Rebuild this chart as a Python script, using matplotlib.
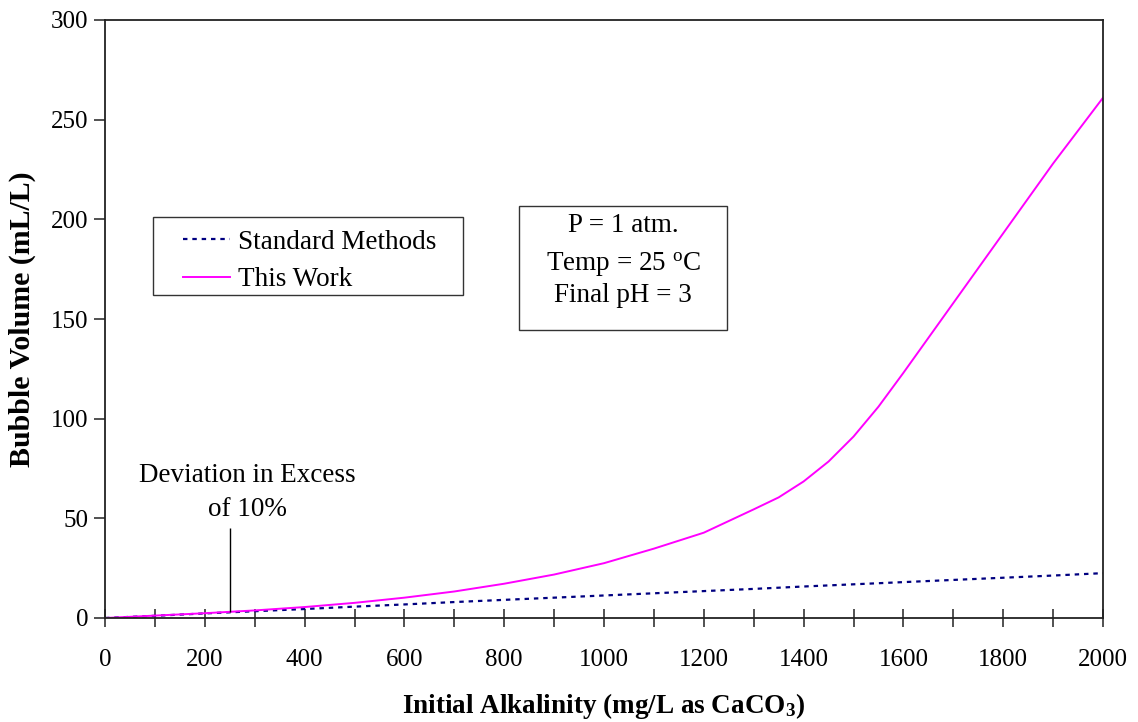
import matplotlib
matplotlib.use("Agg")
import matplotlib.pyplot as plt
from matplotlib.patches import Rectangle
from matplotlib.ticker import MultipleLocator

plt.rcParams['font.family'] = ['Liberation Serif', 'DejaVu Serif']
plt.rcParams['mathtext.fontset'] = 'custom'
plt.rcParams['mathtext.rm'] = 'Liberation Serif'
plt.rcParams['mathtext.bf'] = 'Liberation Serif:bold'
plt.rcParams['mathtext.it'] = 'Liberation Serif:italic'

# ---- data ----
alk_std = [0, 100, 200, 300, 400, 500, 600, 700, 800, 900, 1000, 1100, 1200,
           1300, 1400, 1500, 1600, 1700, 1800, 1900, 2000]
vol_std = [0, 1.1, 2.3, 3.4, 4.5, 5.7, 6.8, 8.0, 9.1, 10.2, 11.3, 12.4, 13.5,
           14.6, 15.8, 16.9, 18.0, 19.1, 20.2, 21.3, 22.5]

alk_work = [0, 100, 200, 300, 400, 500, 600, 700, 800, 900, 1000, 1100, 1200,
            1300, 1350, 1400, 1450, 1500, 1550, 1600, 1700, 1800, 1900, 2000]
vol_work = [0, 1.2, 2.4, 3.8, 5.5, 7.6, 10.2, 13.3, 17.2, 21.8, 27.5, 34.8, 42.8,
            54.5, 60.5, 68.5, 78.5, 91, 106, 123, 158, 193, 228, 261]

annot_x = 250
annot_y0 = 3
annot_y1 = 45

x_ticks = [0, 200, 400, 600, 800, 1000, 1200, 1400, 1600, 1800, 2000]
y_ticks = [0, 50, 100, 150, 200, 250, 300]

FS_TICK = 18
FS = 19.5

fig = plt.figure(figsize=(11.38, 7.22), dpi=100)
ax = fig.add_axes([105/1138, 1 - 618/722, 998/1138, 598/722])

ax.plot(alk_std, vol_std, color='#000080', lw=1.6, dashes=(2, 2.2),
        label='Standard Methods')
ax.plot(alk_work, vol_work, color='#FF00FF', lw=1.4, label='This Work')

ax.vlines(annot_x, annot_y0, annot_y1, color='black', lw=1.0)
ax.text(285, 63, 'Deviation in Excess\nof 10%', ha='center', va='center',
        fontsize=FS, linespacing=1.5, multialignment='center')

ax.set_xlim(0, 2000)
ax.set_ylim(0, 300)
ax.set_xticks(x_ticks)
ax.set_yticks(y_ticks)
ax.xaxis.set_minor_locator(MultipleLocator(100))
ax.tick_params(axis='x', which='both', direction='inout', length=13, width=1.1,
               labelsize=FS_TICK, pad=16, color='#222222')
ax.tick_params(axis='y', direction='out', length=8, width=1.1, labelsize=FS_TICK,
               pad=4, color='#222222')
for s in ax.spines.values():
    s.set_linewidth(1.3)
    s.set_color('#222222')

ax.set_xlabel(r'Initial Alkalinity (mg/L as CaCO$_\mathbf{3}$)', fontsize=FS,
              fontweight='bold', labelpad=14)
ax.set_ylabel('Bubble Volume (mL/L)', fontsize=21.5, fontweight='bold', labelpad=11)

# legend (box drawn separately)
leg = ax.legend(loc='center left', bbox_to_anchor=(78/998, 0.597), frameon=False,
                fontsize=FS, borderpad=0, borderaxespad=0, handlelength=1.73,
                handletextpad=0.3, labelspacing=0.47)
ax.add_patch(Rectangle((48/998, (618-295)/598), 310/998, 78/598,
                       transform=ax.transAxes, fill=False, lw=1.0,
                       edgecolor='#333333', zorder=3))

# conditions box
ax.add_patch(Rectangle((414/998, (618-330)/598), 208/998, 124/598,
                       transform=ax.transAxes, fill=False, lw=1.0,
                       edgecolor='#333333', zorder=3))
cx = 518/998
for txt, py in [('P = 1 atm.', 226), (r'Temp = 25 $^{\mathrm{o}}$C', 265),
                ('Final pH = 3', 295)]:
    ax.text(cx, (618-py)/598, txt, transform=ax.transAxes, ha='center',
            va='center', fontsize=FS)

fig.savefig('out.png', dpi=100)
